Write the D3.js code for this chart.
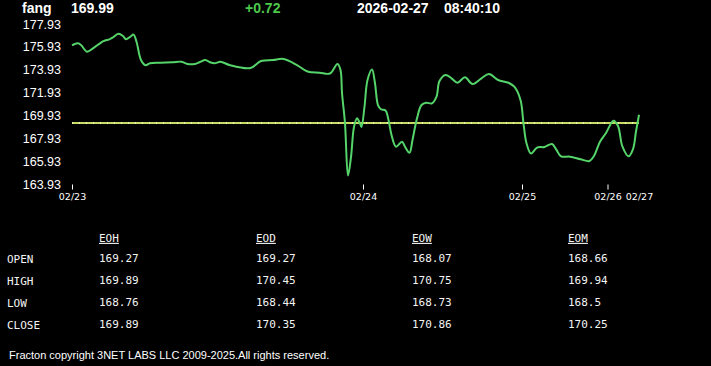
<!DOCTYPE html>
<html><head><meta charset="utf-8">
<script src="https://cdn.jsdelivr.net/npm/d3@7"></script>
<style>
html,body{margin:0;padding:0;background:#000;}
svg{display:block;}
</style></head>
<body>
<svg id="c" width="711" height="366"></svg>
<script>
// ---- data ----
const symbol = "fang";
const lastPrice = "169.99";
const change = "+0.72";
const dateStr = "2026-02-27";
const timeStr = "08:40:10";

// bar index (intraday sampling) and price
const bars = [0,4,6,10,14,21,25,27,31,34,36,39,41,43,46,49,52,59,67,73,77,82,85,89,92,95,99,105,119,126,134,141,150,157,165,172,177,179,180,182,184,186,188,190,192,193,195,197,200,202,204,206,209,211,213,216,220,222,225,227,230,233,236,240,243,245,249,253,257,262,267,273,278,284,291,295,299,301,303,306,310,315,320,323,326,332,339,345,348,352,356,361,364,367,371,374,376,378];
const prices = [176.07,176.24,176.09,175.51,175.80,176.44,176.59,176.73,177.08,176.88,176.60,176.83,177.00,176.38,174.78,174.32,174.49,174.54,174.58,174.63,174.43,174.43,174.58,174.78,174.58,174.49,174.63,174.34,174.08,174.69,174.78,174.87,174.34,173.77,173.67,173.60,174.43,173.90,171.89,169.24,164.67,166.29,168.92,169.68,169.22,168.92,170.69,173.03,173.95,172.74,170.84,170.47,170.36,169.53,168.22,167.19,167.63,167.19,166.67,167.78,169.68,170.84,171.04,170.99,171.57,172.94,173.47,173.18,172.79,173.27,172.68,173.18,173.55,173.03,172.79,172.42,171.28,169.24,167.49,166.60,167.12,167.17,167.43,166.91,166.35,166.32,166.10,165.94,166.38,167.63,168.39,169.47,169.00,167.19,166.35,166.99,168.52,169.99];
const openLevel = 169.27;

const yTicks = [163.93,165.93,167.93,169.93,171.93,173.93,175.93,177.93];
const xTickBars = [0,194,300,357,378];
const xTickLabels = ["02/23","02/24","02/25","02/26","02/27"];

const tableCols = ["EOH","EOD","EOW","EOM"];
const tableRows = ["OPEN","HIGH","LOW","CLOSE"];
const openVals  = ["169.27","169.27","168.07","168.66"];
const highVals  = ["169.89","170.45","170.75","169.94"];
const lowVals   = ["168.76","168.44","168.73","168.5"];
const closeVals = ["169.89","170.35","170.86","170.25"];
const footer = "Fracton copyright 3NET LABS LLC 2009-2025.All rights reserved.";

// ---- drawing ----
const svg = d3.select("#c");
svg.append("rect").attr("width",711).attr("height",366).attr("fill","#000");

const x = d3.scaleLinear().domain([0,378]).range([72,639]);
const y = d3.scaleLinear().domain([163.93,177.93]).range([184,24]);

// header
const hdr = svg.append("g").attr("font-family","Arial, 'Liberation Sans', sans-serif")
  .attr("font-weight","bold").attr("font-size","14px");
hdr.append("text").attr("x",22).attr("y",13).attr("fill","#fff").text(symbol);
hdr.append("text").attr("x",71).attr("y",13).attr("fill","#fff").text(lastPrice);
hdr.append("text").attr("x",245).attr("y",13).attr("fill","#4cc94c").text(change);
hdr.append("text").attr("x",357).attr("y",13).attr("fill","#fff").text(dateStr);
hdr.append("text").attr("x",444).attr("y",13).attr("fill","#fff").text(timeStr);

// y axis
const ya = svg.append("g").attr("transform","translate(72,0)")
  .call(d3.axisLeft(y).tickValues(yTicks).tickSize(0).tickPadding(11).tickFormat(d3.format(".2f")));
ya.select(".domain").remove();
ya.selectAll("text").attr("fill","#fff").attr("font-size","12.5px")
  .attr("font-family","Arial, 'Liberation Sans', sans-serif");

// x axis
const xa = svg.append("g").attr("transform","translate(0,184.5)")
  .call(d3.axisBottom(x).tickValues(xTickBars).tickSize(5).tickPadding(4)
    .tickFormat((d,i)=>xTickLabels[i]));
xa.select(".domain").remove();
xa.selectAll("line").attr("stroke","#fff").attr("stroke-width",1);
xa.selectAll(".tick").filter((d,i)=>i===xTickLabels.length-1).select("line").remove();
xa.selectAll("text").attr("fill","#fff").attr("font-size","9.5px")
  .attr("font-family","Tahoma, 'DejaVu Sans', sans-serif");

// open level line
svg.append("line").attr("x1",x(0)).attr("x2",x(378)).attr("y1",y(openLevel)).attr("y2",y(openLevel))
  .attr("stroke","#c9db62").attr("stroke-width",2);
svg.append("line").attr("x1",x(0)).attr("x2",x(378)).attr("y1",y(openLevel)).attr("y2",y(openLevel))
  .attr("stroke","#eef5b8").attr("stroke-width",2).attr("stroke-dasharray","1,6");

// price line
const line = d3.line().x((d,i)=>x(bars[i])).y(d=>y(d)).curve(d3.curveCatmullRom.alpha(0.5));
svg.append("path").datum(prices).attr("d",line).attr("fill","none")
  .attr("stroke","#55d46a").attr("stroke-width",2).attr("stroke-linejoin","round");

// table
const tbl = svg.append("g").attr("font-family","'DejaVu Sans Mono', 'Liberation Mono', monospace")
  .attr("font-size","11px").attr("fill","#f4f4f4");
const colX = [99,256,412,568];
const rowY = [258,280,302,324];
const vals = [openVals,highVals,lowVals,closeVals];
tableCols.forEach((c,j)=>{
  tbl.append("text").attr("x",colX[j]).attr("y",238).attr("dy","0.35em")
    .attr("text-decoration","underline").text(c);
});
tableRows.forEach((r,i)=>{
  tbl.append("text").attr("x",7).attr("y",rowY[i]+1.5).attr("dy","0.35em").text(r);
  vals[i].forEach((v,j)=>{
    tbl.append("text").attr("x",colX[j]).attr("y",rowY[i]).attr("dy","0.35em").text(v);
  });
});

// footer
svg.append("text").attr("x",9).attr("y",355).attr("dy","0.35em")
  .attr("font-family","Arial, 'Liberation Sans', sans-serif").attr("font-size","11px")
  .attr("fill","#fff").text(footer);
</script>
</body></html>
